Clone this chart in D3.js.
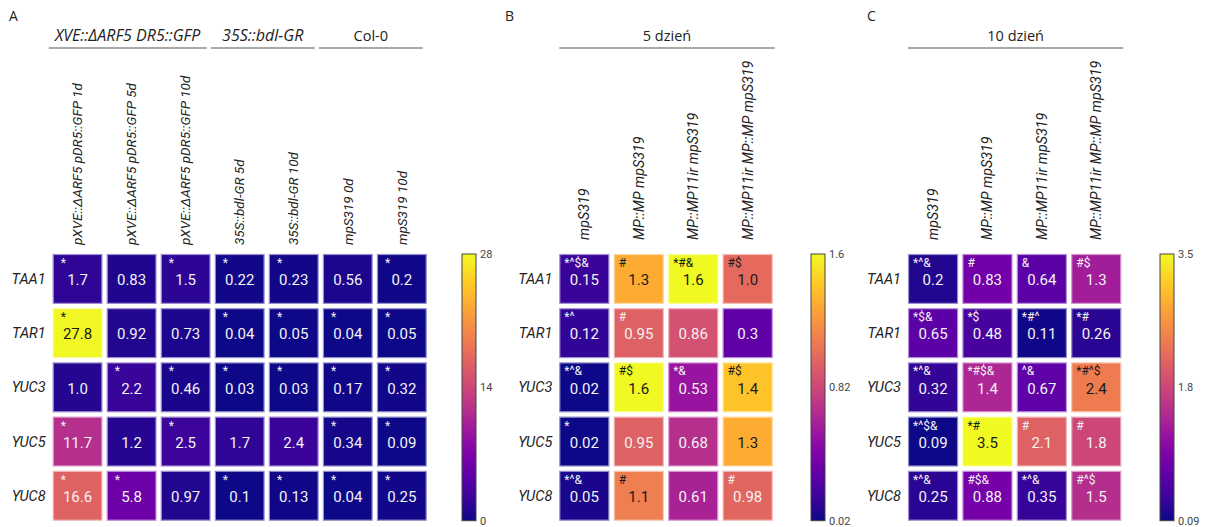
<!DOCTYPE html>
<html>
<head>
<meta charset="utf-8">
<script src="https://cdn.jsdelivr.net/npm/d3@7"></script>
<style>
  body { margin: 0; background: #fff; }
  svg { display: block; }
</style>
</head>
<body>
<svg width="1206" height="527"></svg>
<script>
var genes = ["TAA1", "TAR1", "YUC3", "YUC5", "YUC8"];

// panel A
var colsA = ["pXVE::ΔARF5 pDR5::GFP 1d", "pXVE::ΔARF5 pDR5::GFP 5d", "pXVE::ΔARF5 pDR5::GFP 10d",
             "35S::bdl-GR 5d", "35S::bdl-GR 10d", "mpS319 0d", "mpS319 10d"];
var valuesA = [
  ["1.7", "0.83", "1.5", "0.22", "0.23", "0.56", "0.2"],
  ["27.8", "0.92", "0.73", "0.04", "0.05", "0.04", "0.05"],
  ["1.0", "2.2", "0.46", "0.03", "0.03", "0.17", "0.32"],
  ["11.7", "1.2", "2.5", "1.7", "2.4", "0.34", "0.09"],
  ["16.6", "5.8", "0.97", "0.1", "0.13", "0.04", "0.25"]
];
var marksA = [
  ["*", "", "*", "*", "*", "", "*"],
  ["*", "", "", "*", "*", "*", "*"],
  ["", "*", "*", "*", "*", "*", "*"],
  ["*", "", "*", "", "", "*", "*"],
  ["*", "*", "", "*", "*", "*", "*"]
];
var groupsA = [
  {label: "XVE::ΔARF5 DR5::GFP", from: 0, to: 2, italic: true},
  {label: "35S::bdl-GR", from: 3, to: 4, italic: true},
  {label: "Col-0", from: 5, to: 6, italic: false}
];
var domainA = [0, 28];
var ticksA = ["0", "14", "28"];

// panel B
var colsBC = ["mpS319", "MP::MP mpS319", "MP::MP11ir mpS319", "MP::MP11ir MP::MP mpS319"];
var valuesB = [
  ["0.15", "1.3", "1.6", "1.0"],
  ["0.12", "0.95", "0.86", "0.3"],
  ["0.02", "1.6", "0.53", "1.4"],
  ["0.02", "0.95", "0.68", "1.3"],
  ["0.05", "1.1", "0.61", "0.98"]
];
var marksB = [
  ["*^$&", "#", "*#&", "#$"],
  ["*^", "#", "", ""],
  ["*^&", "#$", "*&", "#$"],
  ["*", "", "", ""],
  ["*^&", "#", "", "#"]
];
var domainB = [0.02, 1.6];
var ticksB = ["0.02", "0.82", "1.6"];

// panel C
var valuesC = [
  ["0.2", "0.83", "0.64", "1.3"],
  ["0.65", "0.48", "0.11", "0.26"],
  ["0.32", "1.4", "0.67", "2.4"],
  ["0.09", "3.5", "2.1", "1.8"],
  ["0.25", "0.88", "0.35", "1.5"]
];
var marksC = [
  ["*^&", "#", "&", "#$"],
  ["*$&", "*$", "*#^", "*#"],
  ["*^&", "*#$&", "^&", "*#^$"],
  ["*^$&", "*#", "#", "#"],
  ["*^&", "#$&", "*^&", "#^$"]
];
var domainC = [0.09, 3.5];
var ticksC = ["0.09", "1.8", "3.5"];

var svg = d3.select("svg");
var yTop = 254, yBottom = 520.7;

// plasma gradient for the colour bars
var defs = svg.append("defs");
var grad = defs.append("linearGradient").attr("id", "plasma")
  .attr("x1", 0).attr("y1", 1).attr("x2", 0).attr("y2", 0);
d3.range(0, 1.001, 0.05).forEach(function(t) {
  grad.append("stop").attr("offset", t).attr("stop-color", d3.interpolatePlasma(t));
});

function panel(o) {
  var g = svg.append("g");
  var x = d3.scaleBand().domain(o.cols).range([o.x0, o.x1]).paddingInner(0.08);
  var y = d3.scaleBand().domain(genes).range([yTop, yBottom]).paddingInner(0.08);
  var t = d3.scaleLinear().domain(o.domain).range([0, 1]).clamp(true);
  var color = function(v) { return d3.interpolatePlasma(t(v)); };

  g.append("text").attr("x", o.letterX).attr("y", 21)
    .attr("font-family", "Open Sans").attr("font-size", "14px").attr("fill", "#222")
    .text(o.letter);

  // group headers
  o.groups.forEach(function(gr) {
    var a = x(o.cols[gr.from]) + o.lineOff[0], b = x(o.cols[gr.to]) + x.bandwidth() + o.lineOff[1];
    g.append("line").attr("x1", a).attr("x2", b).attr("y1", 48).attr("y2", 48)
      .attr("stroke", "#555").attr("stroke-width", 1.2);
    g.append("text").attr("x", (a + b) / 2).attr("y", 41)
      .attr("text-anchor", "middle")
      .attr("font-family", "Open Sans").attr("font-size", gr.italic ? "16px" : "14.5px")
      .attr("font-style", gr.italic ? "italic" : "normal").attr("fill", "#222")
      .text(gr.label);
  });

  // column labels
  g.selectAll(".col").data(o.cols).enter().append("text")
    .attr("transform", function(d) { return "translate(" + (x(d) + x.bandwidth() / 2) + "," + o.labelY + ") rotate(-90)"; })
    .attr("dy", "0.35em")
    .attr("font-family", "Roboto").attr("font-style", "italic").attr("font-size", o.labelSize)
    .attr("fill", "#222")
    .text(function(d) { return d; });

  // row labels
  g.selectAll(".row").data(genes).enter().append("text")
    .attr("x", o.x0 - 7)
    .attr("y", function(d) { return y(d) + y.bandwidth() / 2; })
    .attr("dy", "0.35em").attr("text-anchor", "end")
    .attr("font-family", "Roboto").attr("font-style", "italic").attr("font-size", "14.5px")
    .attr("fill", "#222")
    .text(function(d) { return d; });

  var cells = [];
  genes.forEach(function(gene, i) {
    o.cols.forEach(function(c, j) {
      cells.push({gene: gene, col: c, label: o.values[i][j], v: +o.values[i][j], mark: o.marks[i][j]});
    });
  });

  var cell = g.selectAll(".cell").data(cells).enter().append("g")
    .attr("transform", function(d) { return "translate(" + x(d.col) + "," + y(d.gene) + ")"; });

  cell.append("rect")
    .attr("x", 0.5).attr("y", 0.5)
    .attr("width", x.bandwidth() - 1).attr("height", y.bandwidth() - 1)
    .attr("fill", function(d) { return color(d.v); })
    .attr("stroke", function(d) { return d3.interpolateRgb(color(d.v), "#fff")(0.55); })
    .attr("stroke-width", 1.2);

  var ink = function(d) { return t(d.v) > 0.615 ? "#1a1a1a" : "#f2f2f2"; };

  cell.append("text")
    .attr("x", x.bandwidth() / 2).attr("y", y.bandwidth() / 2 + 1)
    .attr("dy", "0.35em").attr("text-anchor", "middle")
    .attr("font-family", "Roboto").attr("font-size", "15px")
    .attr("fill", ink)
    .text(function(d) { return d.label; });

  cell.append("text")
    .attr("x", o.markX).attr("y", 13)
    .attr("font-family", "Roboto").attr("font-size", "12px")
    .attr("fill", ink)
    .text(function(d) { return d.mark; });

  // colour bar
  var cb = d3.scaleLinear().domain([0, o.ticks.length - 1]).range([yBottom, yTop]);
  g.append("rect").attr("x", o.cbX).attr("y", yTop).attr("width", 14).attr("height", yBottom - yTop)
    .attr("fill", "url(#plasma)").attr("stroke", "#444").attr("stroke-width", 1);
  g.selectAll(".tick").data(o.ticks).enter().append("text")
    .attr("x", o.cbX + 18)
    .attr("y", function(d, i) { return cb(i); })
    .attr("dy", "0.35em")
    .attr("font-family", "Roboto").attr("font-size", "11px").attr("fill", "#444")
    .text(function(d) { return d; });
}

panel({letter: "A", letterX: 9, cols: colsA, values: valuesA, marks: marksA, groups: groupsA,
       domain: domainA, ticks: ticksA, x0: 52.7, x1: 426.7, cbX: 462, lineOff: [-4, -4], markX: 8,
       labelY: 245, labelSize: "13.5px"});
panel({letter: "B", letterX: 505, cols: colsBC, values: valuesB, marks: marksB,
       groups: [{label: "5 dzień", from: 0, to: 3, italic: false}],
       domain: domainB, ticks: ticksB, x0: 559.3, x1: 772.7, cbX: 811, lineOff: [0, 2], markX: 5,
       labelY: 240, labelSize: "14.3px"});
panel({letter: "C", letterX: 867, cols: colsBC, values: valuesC, marks: marksC,
       groups: [{label: "10 dzień", from: 0, to: 3, italic: false}],
       domain: domainC, ticks: ticksC, x0: 908, x1: 1121.3, cbX: 1160, lineOff: [0, 2], markX: 5,
       labelY: 240, labelSize: "14.3px"});
</script>
</body>
</html>
